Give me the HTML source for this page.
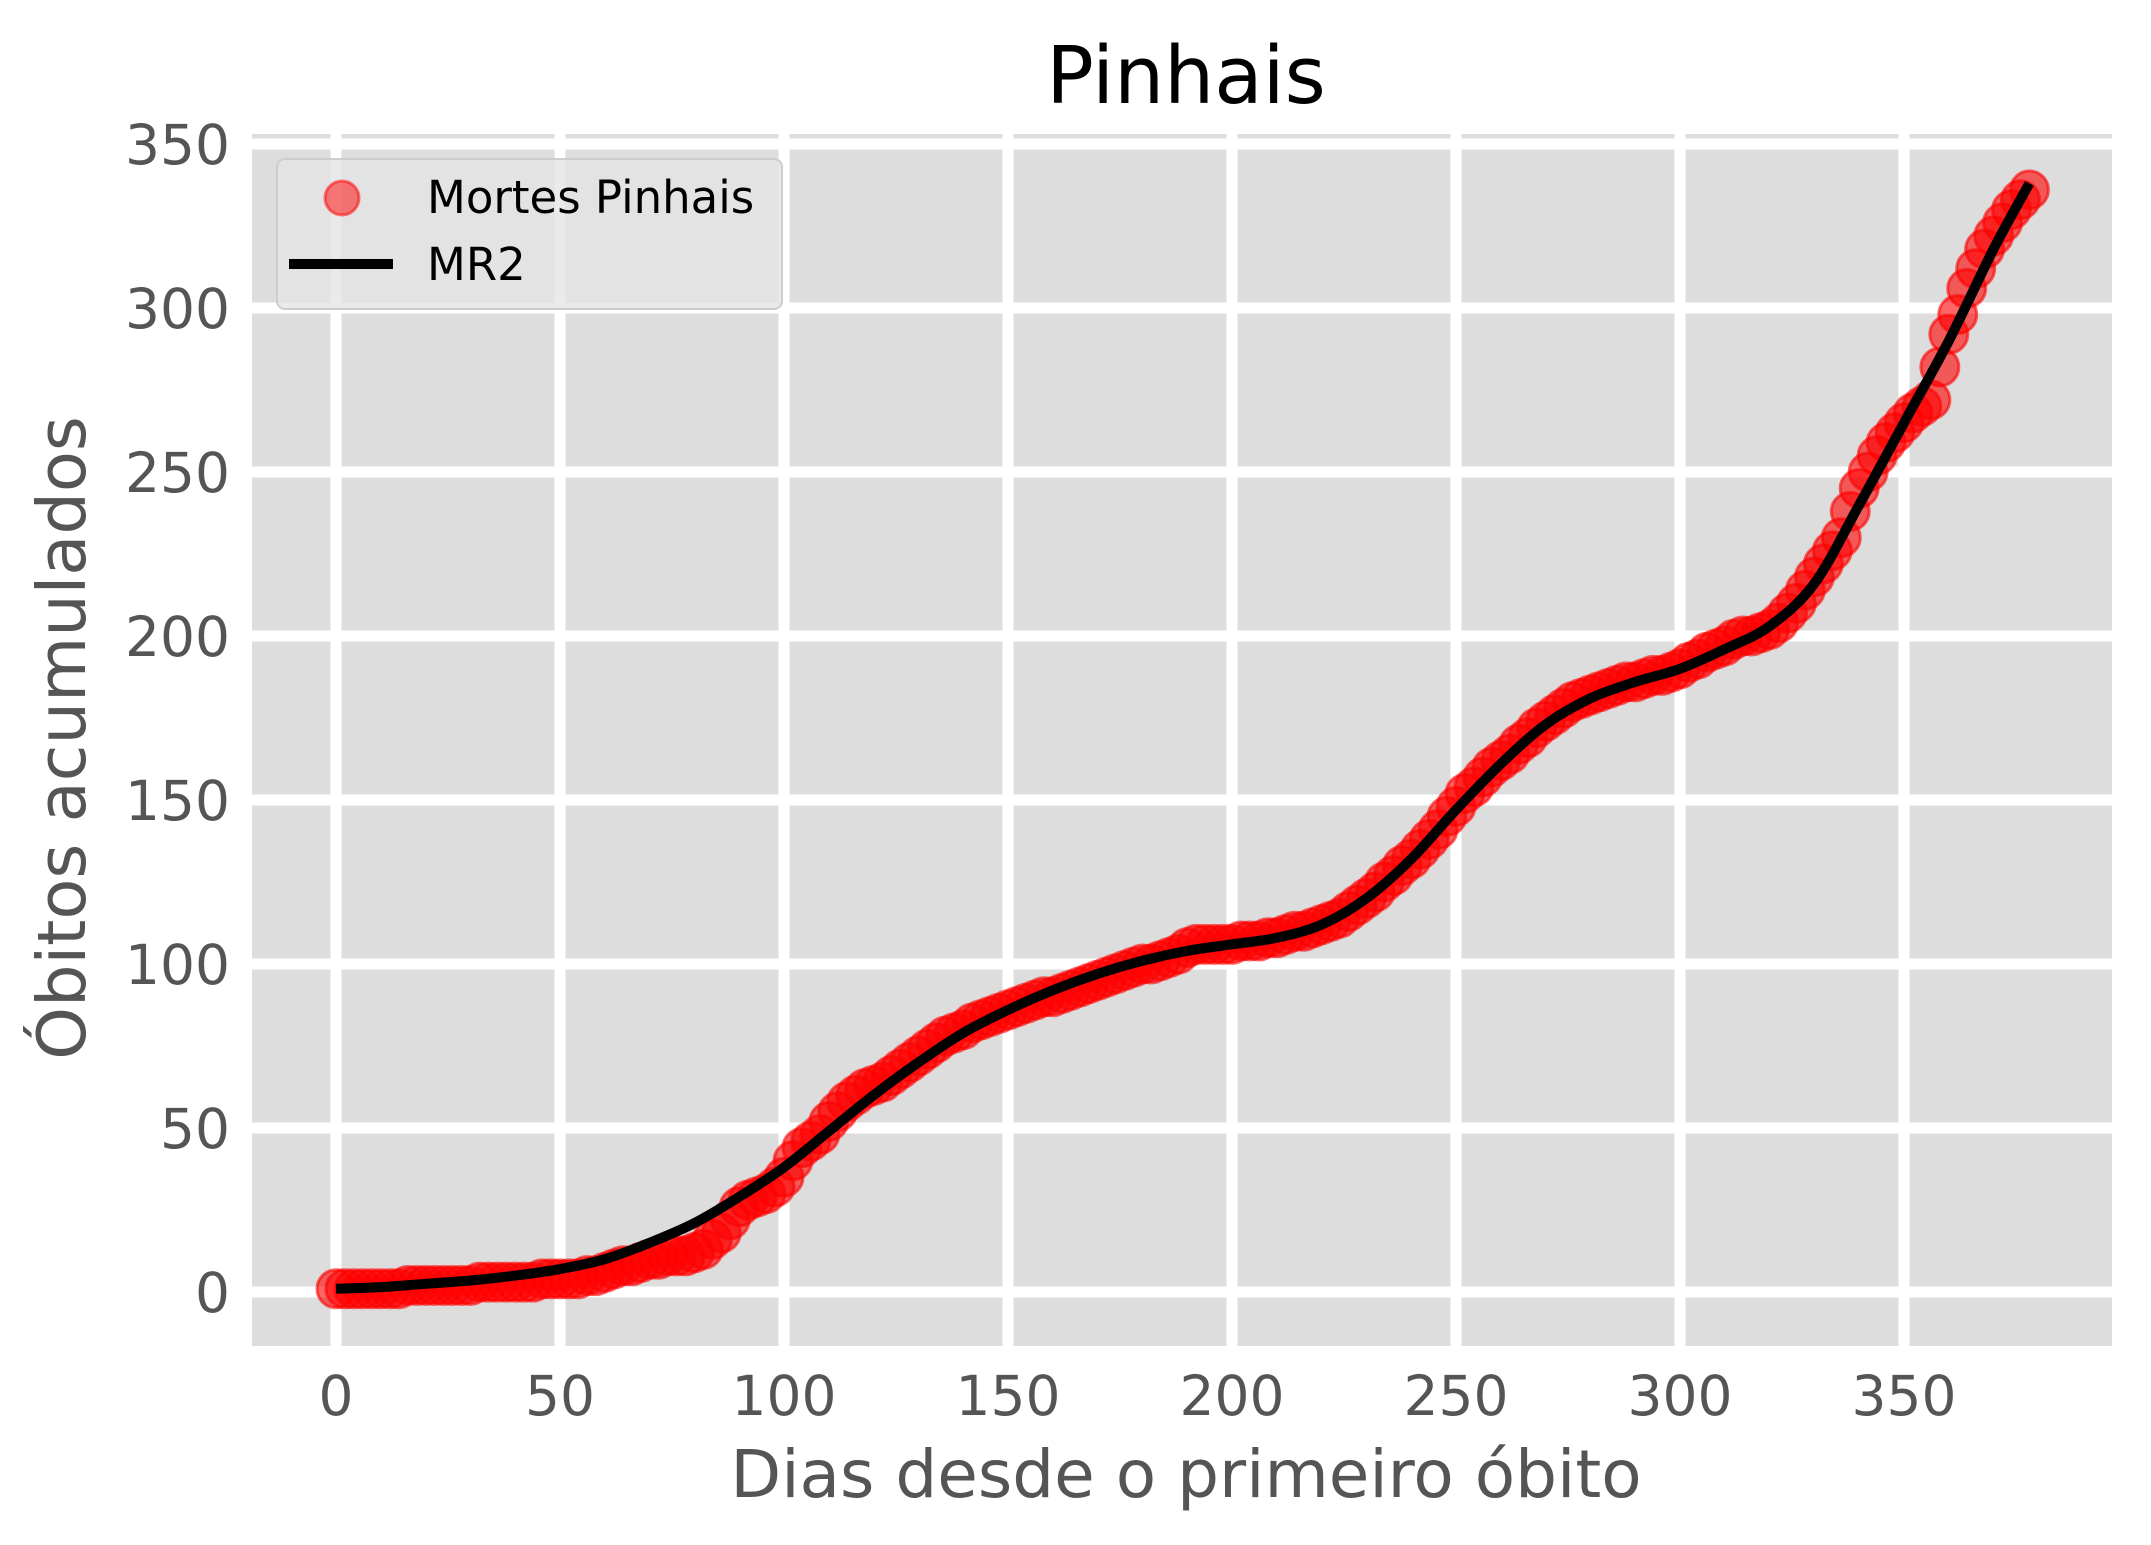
<!DOCTYPE html>
<html><head><meta charset="utf-8"><style>
html,body{margin:0;padding:0;background:#fff;}
svg{display:block;font-family:"DejaVu Sans","Liberation Sans",sans-serif;}
</style></head><body>
<svg id="chart" width="2151" height="1545" viewBox="0 0 2151 1545">
<rect x="252" y="134" width="1860" height="1212" fill="#dddddd"/>
<g id="grid"></g><g id="ticks"></g>
<g id="pts"></g><g id="fit"></g>
<text x="1186" y="103" font-size="79" text-anchor="middle" fill="#000">Pinhais</text>
<text x="1186" y="1497" font-size="66" text-anchor="middle" fill="#555">Dias desde o primeiro óbito</text>
<text x="0" y="0" font-size="67" text-anchor="middle" fill="#555" transform="translate(85,738) rotate(-90)">Óbitos acumulados</text>
<g>
<rect x="277" y="159" width="505" height="150" rx="8" fill="#e5e5e5" fill-opacity="0.8" stroke="#cccccc" stroke-width="2"/>
<circle cx="342" cy="198" r="17" fill="#ff0000" fill-opacity="0.5" stroke="#ff0000" stroke-opacity="0.5" stroke-width="3"/>
<text x="427" y="213" font-size="45" fill="#000">Mortes Pinhais</text>
<line x1="289" y1="264" x2="393" y2="264" stroke="#000" stroke-width="10"/>
<text x="427" y="280" font-size="45" fill="#000">MR2</text>
</g>
</svg>
<script>
const deaths=[1,1,1,1,1,1,1,1,2,2,2,2,2,2,2,2,3,3,3,3,3,3,3,4,4,4,4,4,5,5,6,7,8,8,9,10,10,11,11,11,12,13,16,18,22,26,28,29,30,32,35,40,44,46,48,52,55,58,60,62,63,64,66,68,70,72,74,76,78,79,80,82,83,84,85,86,87,88,89,90,90,91,92,93,94,95,96,97,98,99,100,100,101,102,103,105,106,106,106,106,106,107,107,107,108,108,109,110,110,111,112,113,114,116,118,120,122,125,127,130,132,135,138,141,145,148,152,154,157,160,162,164,167,169,172,174,176,178,180,181,182,183,184,185,186,186,187,188,188,189,190,192,193,195,196,197,199,200,200,201,202,204,207,210,214,218,222,226,230,238,245,250,255,259,262,265,268,270,272,282,292,298,306,312,318,322,326,330,333,336];
const dayStep=2;
const fitDays=[0,10,20,30,40,50,60,70,80,90,100,110,120,130,140,150,160,170,180,190,200,210,220,230,240,250,260,270,280,290,300,310,320,330,340,350,360,370,378];
const fitVals=[1,1.5,2.5,3.5,5,7,10,15,21,29,38,49,60,70,79,86,92,97,101,104,106,108,112,120,132,147,161,173,181,186,190,196,203,216,240,265,290,318,338];
const xTicks=[0,50,100,150,200,250,300,350];
const yTicks=[0,50,100,150,200,250,300,350];
const NS="http://www.w3.org/2000/svg";
function X(d){return 336+4.48*d;}
function Y(v){return 1292-3.28*v;}
function mk(t,a,p){const e=document.createElementNS(NS,t);for(const k in a)e.setAttribute(k,a[k]);p.appendChild(e);return e;}
const grid=document.getElementById('grid'),ticks=document.getElementById('ticks');
xTicks.forEach(t=>{
 const l=mk('line',{x1:X(t),x2:X(t),y1:134,y2:1346,stroke:'#fff','stroke-width':11},grid);
 
 
 const s=mk('text',{x:X(t),y:1415,'font-size':55,'text-anchor':'middle',fill:'#555'},ticks);
 s.textContent=t;
 
 
});
yTicks.forEach(t=>{
 const l=mk('line',{x1:252,x2:2112,y1:Y(t),y2:Y(t),stroke:'#fff','stroke-width':11},grid);
 
 
 const s=mk('text',{x:230,y:Y(t)+20,'font-size':55,'text-anchor':'end',fill:'#555'},ticks);
 s.textContent=t;
 
 
});
const pts=document.getElementById('pts');
deaths.forEach((v,i)=>{
 const c=mk('circle',{cx:X(i*dayStep),cy:Y(v),r:19,fill:'#ff0000','fill-opacity':0.6,stroke:'#ff0000','stroke-opacity':0.6,'stroke-width':3},pts);
 
 
});
const P=fitDays.map((d,i)=>[X(d),Y(fitVals[i])]);
let dstr='M'+P[0][0]+','+P[0][1];
for(let i=0;i<P.length-1;i++){
 const p0=P[Math.max(0,i-1)],p1=P[i],p2=P[i+1],p3=P[Math.min(P.length-1,i+2)];
 const c1=[p1[0]+(p2[0]-p0[0])/6,p1[1]+(p2[1]-p0[1])/6];
 const c2=[p2[0]-(p3[0]-p1[0])/6,p2[1]-(p3[1]-p1[1])/6];
 dstr+=' C'+c1[0]+','+c1[1]+' '+c2[0]+','+c2[1]+' '+p2[0]+','+p2[1];
}
const pl=mk('path',{d:dstr,fill:'none',stroke:'#000','stroke-width':10,'stroke-linejoin':'round'},document.getElementById('fit'));


</script>
</body></html>
